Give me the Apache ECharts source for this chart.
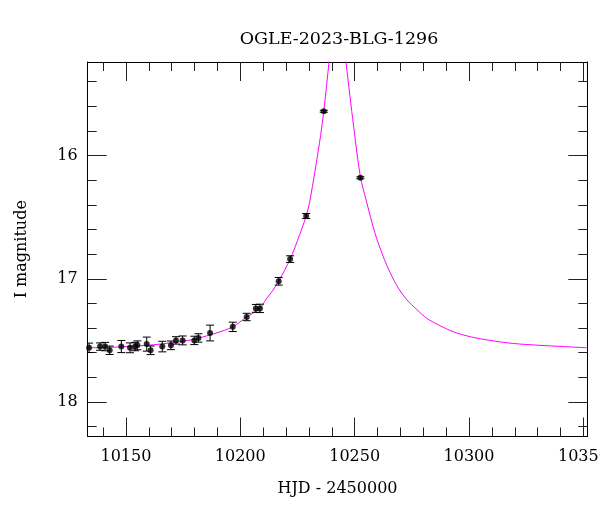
<!DOCTYPE html>
<html>
<head>
<meta charset="utf-8">
<script src="https://cdn.jsdelivr.net/npm/echarts@6/dist/echarts.min.js"></script>
<style>html,body{margin:0;padding:0;background:#fff}#c{width:600px;height:512px}</style>
</head>
<body>
<div id="c"></div>
<script>
// Observed photometry
const hjd = [10133.9, 10138.7, 10140.9, 10142.9, 10148.0, 10151.8, 10154.0, 10155.0, 10159.1, 10160.8, 10165.9, 10169.7, 10171.9, 10174.8, 10179.9, 10181.7, 10186.8, 10196.7, 10202.8, 10206.8, 10208.6, 10216.8, 10221.8, 10228.8, 10236.5, 10252.5];
const mag = [17.56, 17.55, 17.55, 17.58, 17.55, 17.56, 17.55, 17.54, 17.53, 17.58, 17.55, 17.54, 17.50, 17.50, 17.50, 17.48, 17.44, 17.39, 17.31, 17.24, 17.24, 17.02, 16.84, 16.49, 15.64, 16.18];
const magErr = [0.038, 0.030, 0.034, 0.034, 0.049, 0.040, 0.034, 0.036, 0.057, 0.035, 0.043, 0.035, 0.030, 0.036, 0.034, 0.034, 0.064, 0.038, 0.030, 0.032, 0.034, 0.031, 0.027, 0.020, 0.008, 0.008];

// Model curve
const modelHjd = [10133.1, 10145.0, 10159.0, 10165.0, 10173.7, 10180.0, 10186.8, 10192.0, 10196.7, 10202.8, 10205.5, 10208.6, 10211.3, 10214.0, 10216.8, 10221.8, 10225.0, 10228.8, 10230.5, 10234.6, 10236.5, 10238.8, 10240.5, 10242.5, 10244.5, 10246.2, 10249.6, 10252.5, 10255.0, 10258.9, 10262.5, 10265.5, 10269.1, 10272.8, 10277.2, 10281.5, 10287.3, 10293.2, 10300.5, 10309.2, 10319.4, 10331.1, 10341.3, 10351.7];
const modelMag = [17.56, 17.555, 17.54, 17.53, 17.51, 17.49, 17.455, 17.425, 17.39, 17.31, 17.28, 17.24, 17.165, 17.10, 17.02, 16.84, 16.69, 16.49, 16.36, 15.90, 15.64, 15.24, 14.95, 14.60, 14.95, 15.24, 15.77, 16.17, 16.36, 16.63, 16.82, 16.95, 17.075, 17.17, 17.25, 17.32, 17.38, 17.43, 17.47, 17.50, 17.525, 17.54, 17.55, 17.56];

// Axis ticks
const xMajorTicks = [10150, 10200, 10250, 10300, 10350];
const xMinorTicks = [10140, 10160, 10170, 10180, 10190, 10210, 10220, 10230, 10240, 10260, 10270, 10280, 10290, 10310, 10320, 10330, 10340];
const yMajorTicks = [16, 17, 18];
const yMinorTicks = [15.4, 15.6, 15.8, 16.2, 16.4, 16.6, 16.8, 17.2, 17.4, 17.6, 17.8, 18.2];

const xMin = 10133.3, xMax = 10351.7, yMin = 15.24, yMax = 18.28;
const FONT = 'DejaVu Serif';

const chart = echarts.init(document.getElementById('c'), null, {renderer: 'canvas'});

function xAx(pos, ticks, len, labels, line) {
  return {
    type: 'value', position: pos, min: xMin, max: xMax,
    splitLine: {show: false},
    axisLine: {show: line, onZero: false, lineStyle: {color: '#000', width: 1}},
    axisTick: {show: true, inside: true, length: len, customValues: ticks, lineStyle: {color: '#222', width: 1}},
    axisLabel: labels ? {show: true, customValues: ticks, margin: 12, color: '#000', fontFamily: FONT, fontSize: 16, formatter: v => String(v)} : {show: false}
  };
}
function yAx(pos, ticks, len, labels, line) {
  return {
    type: 'value', position: pos, min: yMin, max: yMax, inverse: true,
    splitLine: {show: false},
    axisLine: {show: line, onZero: false, lineStyle: {color: '#000', width: 1}},
    axisTick: {show: true, inside: true, length: len, customValues: ticks, lineStyle: {color: '#222', width: 1}},
    axisLabel: labels ? {show: true, customValues: ticks, margin: 10, color: '#000', fontFamily: FONT, fontSize: 16, formatter: v => String(v)} : {show: false}
  };
}

const xAxes = [
  xAx('bottom', xMajorTicks, 19, true, true),
  xAx('bottom', xMinorTicks, 9, false, false),
  xAx('top', xMajorTicks, 19, false, true),
  xAx('top', xMinorTicks, 9, false, false)
];
xAxes[0].name = 'HJD - 2450000';
xAxes[0].nameLocation = 'middle';
xAxes[0].nameGap = 44;
xAxes[0].nameTextStyle = {color: '#000', fontFamily: FONT, fontSize: 16};

const yAxes = [
  yAx('left', yMajorTicks, 19, true, true),
  yAx('left', yMinorTicks, 9, false, false),
  yAx('right', yMajorTicks, 19, false, true),
  yAx('right', yMinorTicks, 9, false, false)
];
yAxes[0].name = 'I magnitude';
yAxes[0].nameLocation = 'middle';
yAxes[0].nameGap = 58;
yAxes[0].nameRotate = 90;
yAxes[0].nameTextStyle = {color: '#000', fontFamily: FONT, fontSize: 16};

const points = hjd.map((d, i) => [d, mag[i], magErr[i]]);
const model = modelHjd.map((d, i) => [d, modelMag[i]]);

chart.setOption({
  animation: false,
  backgroundColor: '#fff',
  title: {
    text: 'OGLE-2023-BLG-1296', left: 334, top: 25, textAlign: 'center',
    textStyle: {color: '#000', fontFamily: FONT, fontSize: 17.5, fontWeight: 'normal'}
  },
  grid: {left: 87.7, right: 12.7, top: 62, bottom: 75.5, containLabel: false, outerBoundsMode: 'none'},
  xAxis: xAxes,
  yAxis: yAxes,
  series: [
    {
      type: 'line', data: model, xAxisIndex: 0, yAxisIndex: 0,
      showSymbol: false, smooth: 0.3, clip: true,
      lineStyle: {color: '#ff00ff', width: 1}, z: 1
    },
    {
      type: 'custom', data: points, xAxisIndex: 0, yAxisIndex: 0, z: 2, clip: true,
      renderItem: function (params, api) {
        const x = api.value(0), y = api.value(1), e = api.value(2);
        const a = api.coord([x, y - e]), b = api.coord([x, y + e]);
        const cw = 4;
        const st = {stroke: '#000', lineWidth: 1};
        return {type: 'group', children: [
          {type: 'line', shape: {x1: a[0], y1: a[1], x2: b[0], y2: b[1]}, style: st},
          {type: 'line', shape: {x1: a[0] - cw, y1: a[1], x2: a[0] + cw, y2: a[1]}, style: st},
          {type: 'line', shape: {x1: b[0] - cw, y1: b[1], x2: b[0] + cw, y2: b[1]}, style: st}
        ]};
      }
    },
    {
      type: 'scatter', data: points, xAxisIndex: 0, yAxisIndex: 0, z: 3,
      symbol: 'circle', symbolSize: 6, itemStyle: {color: '#000'}
    }
  ]
});
</script>
</body>
</html>
